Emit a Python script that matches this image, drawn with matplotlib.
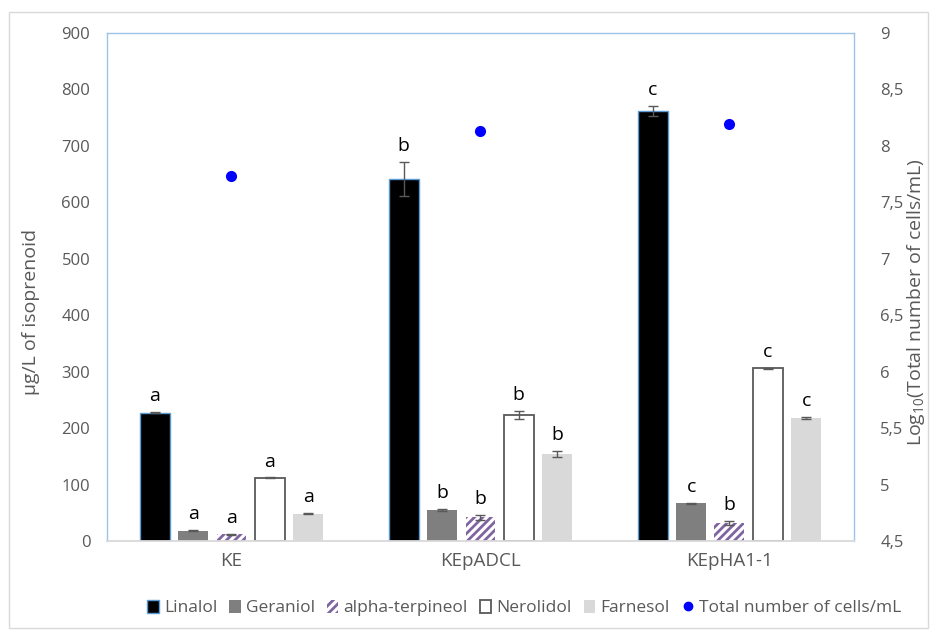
import matplotlib
matplotlib.use("Agg")
import matplotlib.pyplot as plt
from matplotlib.patches import Rectangle, Patch
from matplotlib.lines import Line2D
import numpy as np

plt.rcParams['font.family'] = ['Open Sans', 'DejaVu Sans']
plt.rcParams['mathtext.default'] = 'regular'
plt.rcParams['hatch.linewidth'] = 2.0

strains = ['KE', 'KEpADCL', 'KEpHA1-1']
compounds = ['Linalol', 'Geraniol', 'alpha-terpineol', 'Nerolidol', 'Farnesol']

# µg/L per compound, one value per strain
linalol = [227, 641, 762]
geraniol = [18, 55, 67]
terpineol = [12, 42, 32]
nerolidol = [112, 223, 306]
farnesol = [48, 154, 218]

linalol_err = [1, 30, 9]
geraniol_err = [1, 2, 1]
terpineol_err = [1, 4, 3]
nerolidol_err = [0.5, 7, 1]
farnesol_err = [1, 6, 1]

letters = [
    ['a', 'b', 'c'],
    ['a', 'b', 'c'],
    ['a', 'b', 'b'],
    ['a', 'b', 'c'],
    ['a', 'b', 'c'],
]

log_cells = [7.73, 8.13, 8.19]
log_cells_err = [0.0, 0.0, 0.02]

values = [linalol, geraniol, terpineol, nerolidol, farnesol]
errors = [linalol_err, geraniol_err, terpineol_err, nerolidol_err, farnesol_err]

styles = [
    dict(color='black', edgecolor='#5B9BD5', linewidth=1.0),
    dict(color='#7F7F7F', edgecolor='#7F7F7F', linewidth=0),
    dict(color='white', edgecolor='#8064A2', hatch='////', linewidth=0),
    dict(color='white', edgecolor='#595959', linewidth=1.3),
    dict(color='#D9D9D9', edgecolor='#D9D9D9', linewidth=0),
]

txt = '#595959'

fig = plt.figure(figsize=(9.36, 6.36), dpi=100)
fig.patches.append(Rectangle((9 / 936, 1 - 628 / 636), 919 / 936, 616 / 636,
                             transform=fig.transFigure, fill=False,
                             edgecolor='#D9D9D9', linewidth=1.0))

ax = fig.add_axes([0.1143, 0.1494, 0.798, 0.7987])
x = np.arange(len(strains))
pitch = 0.154
width = 0.12

for i, (vals, errs, st) in enumerate(zip(values, errors, styles)):
    pos = x + (i - 2) * pitch
    ax.bar(pos, vals, width=width, label=compounds[i], zorder=2, **st)
    ax.errorbar(pos, vals, yerr=errs, fmt='none', ecolor='#595959',
                elinewidth=1.0, capsize=3.5, capthick=1.0, zorder=3)
    for p, v, e, l in zip(pos, vals, errs, letters[i]):
        ax.annotate(l, (p, v + e), xytext=(0, 5), textcoords='offset points',
                    ha='center', va='bottom', fontsize=14, color='black')

ax.set_xlim(-0.5, 2.5)
ax.set_ylim(0, 900)
ax.set_yticks(range(0, 901, 100))
ax.set_xticks(x)
ax.set_xticklabels(strains)
ax.tick_params(axis='both', length=0, labelsize=12, colors=txt)
ax.tick_params(axis='y', pad=12)
ax.tick_params(axis='x', pad=8, labelsize=13.5)
ax.set_ylabel('µg/L of isoprenoid', fontsize=14, color=txt)
ax.yaxis.set_label_coords(-0.09, 0.45)

for s in ['left', 'top', 'right']:
    ax.spines[s].set_color('#9DC3E6')
    ax.spines[s].set_linewidth(1.0)
ax.spines['bottom'].set_color('#D9D9D9')
ax.spines['bottom'].set_linewidth(1.3)

ax2 = ax.twinx()
ax2.errorbar(x, log_cells, yerr=log_cells_err, fmt='o', color='#0000FF',
             markersize=7, ecolor='#595959', elinewidth=1.0, capsize=3, zorder=4)
ax2.set_ylim(4.5, 9)
yt = np.arange(4.5, 9.01, 0.5)
ax2.set_yticks(yt)
ax2.set_yticklabels([('%g' % t).replace('.', ',') for t in yt])
ax2.tick_params(axis='y', length=0, labelsize=12, colors=txt, pad=19)
ax2.set_ylabel('Log$_{10}$(Total number of cells/mL)', fontsize=14, color=txt)
ax2.yaxis.set_label_coords(1.068, 0.47)
for s in ax2.spines.values():
    s.set_visible(False)

handles = []
for c, st in zip(compounds, styles):
    lw = max(st['linewidth'], 0.8) if st['linewidth'] else 0
    handles.append(Patch(facecolor=st['color'], edgecolor=st['edgecolor'],
                         hatch=st.get('hatch'), linewidth=lw, label=c))
handles.append(Line2D([], [], marker='o', linestyle='none', color='#0000FF',
                      markersize=6, label='Total number of cells/mL'))
leg = fig.legend(handles=handles, loc='center', bbox_to_anchor=(0.56, 0.044),
                 ncol=6, frameon=False, fontsize=12.5, handlelength=0.65,
                 handleheight=0.8, handletextpad=0.3, columnspacing=0.7)
for t in leg.get_texts():
    t.set_color(txt)

fig.savefig('out.png', dpi=100)
